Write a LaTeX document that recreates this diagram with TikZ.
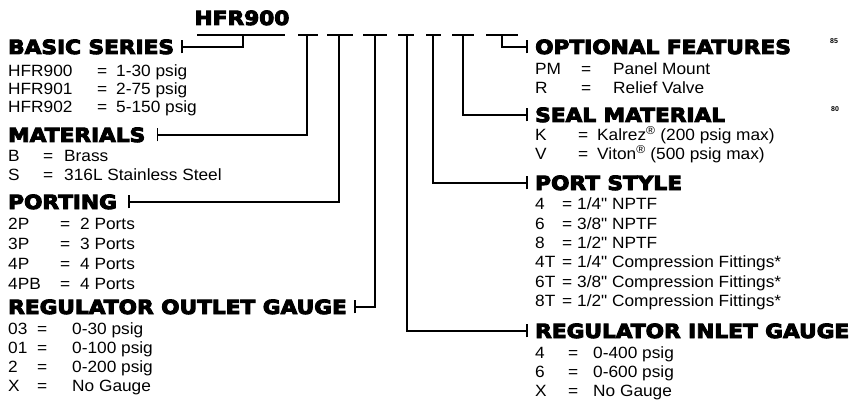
\documentclass[tikz,border=0pt]{standalone}
\usepackage{fontspec}
\setmainfont{Liberation Sans}
\newfontfamily\bodyfont{Liberation Sans}[FakeStretch=1.06]
\newfontfamily\headfont{DejaVu Sans Bold}[FakeStretch=1.11,FakeBold=5]
\newfontfamily\tagfont{Liberation Sans Bold}
\usetikzlibrary{
  calc,       % 坐标偏移
  positioning % 节点相对定位
}

\tikzset{
  rule/.style={line width=1.6pt},
  head/.style={anchor=base west, inner sep=0pt,
    font=\headfont\fontsize{19.5}{20}\selectfont},
  entry/.style={anchor=base west, inner sep=0pt,
    font=\bodyfont\fontsize{16.3}{18}\selectfont},
  pagetag/.style={anchor=base west, inner sep=0pt,
    font=\tagfont\fontsize{7}{8}\selectfont}
}

\begin{document}
\begin{tikzpicture}[x=1pt, y=-1pt]
  \useasboundingbox (0,0) rectangle (854,401);

  % ===== 型号与空格 =====
  \node[head, anchor=base, font=\headfont\fontsize{19.5}{20}\selectfont]
    (model) at (242,25) {HFR900};
  \coordinate (bar-w) at (197,35);
  \coordinate (bar-e) at (285,35);
  \coordinate (bs-s) at (243,35);
  \draw[rule] (bar-w) -- (bar-e);

  % 七个空格：编号/左端/右端/竖线
  \foreach \n/\l/\r/\s in {1/298/318/307, 2/327/353/339, 3/363/387/375,
                           4/398/414/407, 5/426/441/433, 6/452/474/463,
                           7/486/518/502}{
    \draw[rule] (\l,35) -- (\r,35);
    \coordinate (b\n) at (\s,35);
  }

  % ===== 左栏 =====
  % BASIC SERIES
  \node[head] (bs) at (8,54) {BASIC SERIES};
  \foreach \code/\val/\yy [count=\i] in {HFR900/1-30 psig/77,
      HFR901/2-75 psig/95, HFR902/5-150 psig/113}{
    \node[entry] (bs-c\i) at (8,\yy) {\code};
    \node[entry] (bs-e\i) at (97,\yy) {=};
    \node[entry] (bs-v\i) at (116,\yy) {\val};
  }

  % MATERIALS
  \node[head] (mat) at (8,142) {MATERIALS};
  \foreach \code/\val/\yy [count=\i] in {B/Brass/161,
      S/316L Stainless Steel/180}{
    \node[entry] (mat-c\i) at (8,\yy) {\code};
    \node[entry] (mat-e\i) at (43,\yy) {=};
    \node[entry] (mat-v\i) at (64,\yy) {\val};
  }

  % PORTING
  \node[head] (port) at (8,209) {PORTING};
  \foreach \code/\val/\yy [count=\i] in {2P/2 Ports/229, 3P/3 Ports/249,
      4P/4 Ports/269, 4PB/4 Ports/289}{
    \node[entry] (port-c\i) at (8,\yy) {\code};
    \node[entry] (port-e\i) at (60,\yy) {=};
    \node[entry] (port-v\i) at (80,\yy) {\val};
  }

  % REGULATOR OUTLET GAUGE
  \node[head] (outg) at (8,314) {REGULATOR OUTLET GAUGE};
  \foreach \code/\val/\yy [count=\i] in {03/0-30 psig/334, 01/0-100 psig/353,
      2/0-200 psig/372, X/No Gauge/391}{
    \node[entry] (outg-c\i) at (8,\yy) {\code};
    \node[entry] (outg-e\i) at (37,\yy) {=};
    \node[entry] (outg-v\i) at (72,\yy) {\val};
  }

  % ===== 右栏 =====
  % OPTIONAL FEATURES
  \node[head] (opt) at (535,54) {OPTIONAL FEATURES};
  \foreach \code/\val/\yy [count=\i] in {PM/Panel Mount/75, R/Relief Valve/94}{
    \node[entry] (opt-c\i) at (535,\yy) {\code};
    \node[entry] (opt-e\i) at (581,\yy) {=};
    \node[entry] (opt-v\i) at (613,\yy) {\val};
  }

  % SEAL MATERIAL
  \node[head] (seal) at (535,122) {SEAL MATERIAL};
  \foreach \code/\val/\yy [count=\i] in {
      K/{Kalrez\textsuperscript{®} (200 psig max)}/141,
      V/{Viton\textsuperscript{®} (500 psig max)}/160}{
    \node[entry] (seal-c\i) at (535,\yy) {\code};
    \node[entry] (seal-e\i) at (578,\yy) {=};
    \node[entry] (seal-v\i) at (597,\yy) {\val};
  }

  % PORT STYLE
  \node[head] (pst) at (535,190) {PORT STYLE};
  \foreach \code/\val/\yy [count=\i] in {4/{1/4" NPTF}/209, 6/{3/8" NPTF}/229,
      8/{1/2" NPTF}/248, 4T/{1/4" Compression Fittings*}/267,
      6T/{3/8" Compression Fittings*}/287, 8T/{1/2" Compression Fittings*}/306}{
    \node[entry] (pst-c\i) at (535,\yy) {\code};
    \node[entry] (pst-e\i) at (562,\yy) {=};
    \node[entry] (pst-v\i) at (577,\yy) {\val};
  }

  % REGULATOR INLET GAUGE
  \node[head] (ing) at (535,338) {REGULATOR INLET GAUGE};
  \foreach \code/\val/\yy [count=\i] in {4/0-400 psig/358, 6/0-600 psig/377,
      X/No Gauge/396}{
    \node[entry] (ing-c\i) at (535,\yy) {\code};
    \node[entry] (ing-e\i) at (568,\yy) {=};
    \node[entry] (ing-v\i) at (593,\yy) {\val};
  }

  % 页边小号
  \node[pagetag] (pg85) at (830,44) {85};
  \node[pagetag] (pg80) at (831,112) {80};

  % ===== 引线与端部短竖线 =====
  \coordinate (bs-t) at ([xshift=8pt]bs.east);
  \coordinate (mat-t) at ([xshift=12pt]mat.east);
  \coordinate (port-t) at ([xshift=12pt]port.east);
  \coordinate (outg-t) at ([xshift=8pt]outg.east);
  \coordinate (opt-t) at ([xshift=-8pt]opt.west);
  \coordinate (seal-t) at ([xshift=-8pt]seal.west);
  \coordinate (pst-t) at ([xshift=-8pt]pst.west);
  \coordinate (ing-t) at ([xshift=-8pt]ing.west);

  \draw[rule] (bs-s) |- (bs-t);
  \draw[rule] (b1) |- (mat-t);
  \draw[rule] (b2) |- (port-t);
  \draw[rule] (b3) |- (outg-t);
  \draw[rule] (b4) |- (ing-t);
  \draw[rule] (b5) |- (pst-t);
  \draw[rule] (b6) |- (seal-t);
  \draw[rule] (b7) |- (opt-t);

  \foreach \t in {bs-t, mat-t, port-t, outg-t, opt-t, seal-t, pst-t, ing-t}
    \draw[rule] ([yshift=-6.5pt]\t) -- ([yshift=6.5pt]\t);
\end{tikzpicture}
\end{document}
